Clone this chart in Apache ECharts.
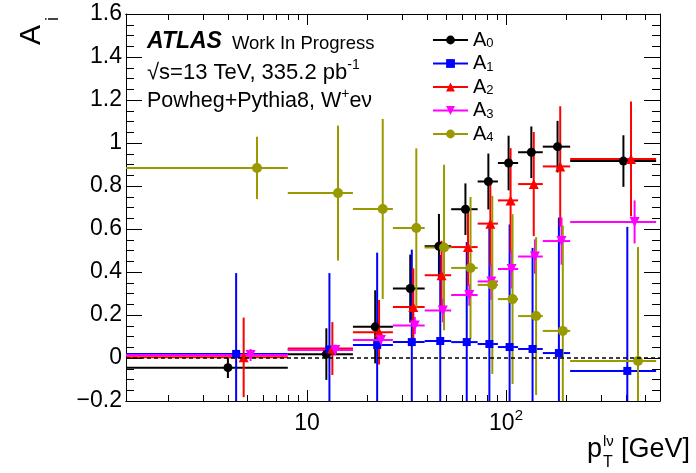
<!DOCTYPE html>
<html>
<head>
<meta charset="utf-8">
<script src="https://cdn.jsdelivr.net/npm/echarts@6/dist/echarts.min.js"></script>
<style>
  html, body { margin: 0; padding: 0; background: #fff; }
  #chart { width: 696px; height: 473px; }
</style>
</head>
<body>
<div id="chart"></div>
<script>
// bin edges of p_T^lnu in GeV (first bin starts at 0, clipped by the log axis)
const binEdges = [0, 8, 17, 27, 39, 53, 72, 91, 115, 153, 210, 568];

// angular coefficients and their (symmetric) uncertainties, one value per bin
const a0 = [-0.045, 0.018, 0.145, 0.323, 0.52, 0.692, 0.821, 0.907, 0.957, 0.983, 0.916];
const a0Err = [0.048, 0.12, 0.17, 0.158, 0.15, 0.12, 0.13, 0.127, 0.12, 0.12, 0.12];
const a1 = [0.019, 0.04, 0.06, 0.074, 0.079, 0.074, 0.065, 0.051, 0.042, 0.023, -0.06];
const a1Err = [0.376, 0.355, 0.43, 0.43, 0.40, 0.465, 0.555, 0.57, 0.47, 0.63, 0.67];
const a2 = [0.003, 0.044, 0.12, 0.237, 0.385, 0.516, 0.625, 0.733, 0.809, 0.891, 0.926];
const a2Err = [0.185, 0.123, 0.15, 0.18, 0.16, 0.18, 0.2, 0.243, 0.242, 0.28, 0.267];
const a3 = [0.014, 0.037, 0.084, 0.151, 0.221, 0.293, 0.356, 0.414, 0.472, 0.544, 0.633];
const a3Err = [0.028, 0.025, 0.03, 0.04, 0.055, 0.05, 0.085, 0.09, 0.08, 0.11, 0.1];
const a4 = [0.884, 0.767, 0.693, 0.605, 0.514, 0.419, 0.34, 0.274, 0.195, 0.126, -0.014];
const a4Err = [0.145, 0.314, 0.419, 0.37, 0.385, 0.33, 0.414, 0.395, 0.367, 0.49, 0.53];

const names = ['A0', 'A1', 'A2', 'A3', 'A4'];
const values = [a0, a1, a2, a3, a4];
const errors = [a0Err, a1Err, a2Err, a3Err, a4Err];

// axes
const xMajorTicks = [10, 100];
const xMinorTicks = [2, 3, 4, 5, 6, 7, 8, 9, 20, 30, 40, 50, 60, 70, 80, 90, 200, 300, 400, 500];
const X_MIN = 1.23, X_MAX = 594;
const Y_MIN = -0.2, Y_MAX = 1.6;

const colors = ['#000000', '#0000ff', '#ff0000', '#ff00ff', '#999900'];
const symbols = ['circle', 'rect', 'triangle', 'triangle', 'circle'];
const symbolRot = [0, 0, 0, 180, 0];
const symbolSizes = [9, 8, 10, 10, 10];
const FONT = '"Liberation Sans", Arial, Helvetica, sans-serif';

// small shift of each coefficient inside its bin so the points do not overlap
function buildRows(vals, errs, k) {
  return vals.map((v, i) => {
    const lo = binEdges[i], hi = binEdges[i + 1];
    const x = lo + (0.5 + 0.05 * k) * (hi - lo);
    return [x, v, errs[i], lo, hi];
  });
}

function renderErrors(params, api) {
  const x = api.value(0), y = api.value(1), e = api.value(2);
  const lo = Math.max(api.value(3), X_MIN), hi = Math.min(api.value(4), X_MAX);
  const top = Math.min(y + e, Y_MAX), bot = Math.max(y - e, Y_MIN);
  const a = api.coord([lo, y]), b = api.coord([hi, y]);
  const c = api.coord([x, top]), d = api.coord([x, bot]);
  const style = { stroke: api.visual('color'), lineWidth: 2 };
  return {
    type: 'group',
    children: [
      { type: 'line', shape: { x1: a[0], y1: a[1], x2: b[0], y2: b[1] }, style: style },
      { type: 'line', shape: { x1: c[0], y1: c[1], x2: d[0], y2: d[1] }, style: style }
    ]
  };
}

const series = [];
names.forEach((name, k) => {
  const rows = buildRows(values[k], errors[k], k);
  series.push({
    name: name + ' err',
    type: 'custom',
    renderItem: renderErrors,
    encode: { x: 0, y: 1 },
    itemStyle: { color: colors[k] },
    data: rows,
    silent: true
  });
  series.push({
    name: name,
    type: 'line',
    data: rows.map(r => [r[0], r[1]]),
    symbol: symbols[k],
    symbolRotate: symbolRot[k],
    symbolSize: symbolSizes[k],
    itemStyle: { color: colors[k], borderWidth: 0 },
    lineStyle: { width: 0, opacity: 0 },
    silent: true
  });
});

// dashed zero line
series.push({
  name: 'zero',
  type: 'line',
  data: [],
  markLine: {
    silent: true,
    symbol: ['none', 'none'],
    label: { show: false },
    lineStyle: { color: '#000', type: [4, 3], width: 1.5 },
    data: [{ yAxis: 0 }]
  }
});

function xAxisDef(position, ticks, len, withLabels) {
  return {
    type: 'log',
    logBase: 10,
    min: X_MIN,
    max: X_MAX,
    position: position,
    axisLine: { show: true, onZero: false, lineStyle: { color: '#000', width: 1 } },
    axisTick: { show: true, inside: true, length: len, customValues: ticks, lineStyle: { color: '#000', width: 1 } },
    axisLabel: withLabels ? {
      show: true,
      customValues: ticks,
      margin: 7,
      color: '#000',
      formatter: v => (Math.round(v) === 10 ? '{n|10}' : '{n|10}{s|2}'),
      rich: {
        n: { fontSize: 23, lineHeight: 27, verticalAlign: 'bottom', fontFamily: FONT, color: '#000' },
        s: { fontSize: 15, lineHeight: 15, verticalAlign: 'top', fontFamily: FONT, color: '#000' }
      }
    } : { show: false },
    splitLine: { show: false },
    minorTick: { show: false }
  };
}

function yAxisDef(position, withLabels) {
  return {
    type: 'value',
    min: Y_MIN,
    max: Y_MAX,
    interval: 0.2,
    position: position,
    axisLine: { show: true, onZero: false, lineStyle: { color: '#000', width: 1 } },
    axisTick: { show: true, inside: true, length: 16, lineStyle: { color: '#000', width: 1 } },
    minorTick: { show: true, splitNumber: 4, length: 8, lineStyle: { color: '#000', width: 1 } },
    axisLabel: withLabels ? {
      show: true,
      margin: 4,
      color: '#000',
      fontSize: 23,
      fontFamily: FONT,
      formatter: v => {
        const s = String(+Math.abs(v).toFixed(1));
        return v < -1e-9 ? '\u2212' + s : s;
      }
    } : { show: false },
    splitLine: { show: false }
  };
}

const chart = echarts.init(document.getElementById('chart'), null, { renderer: 'canvas' });
chart.setOption({
  animation: false,
  backgroundColor: '#fff',
  textStyle: { fontFamily: FONT, color: '#000' },
  grid: { left: 126, right: 36, top: 14, bottom: 72, containLabel: false },
  xAxis: [
    xAxisDef('bottom', xMajorTicks, 11, true),
    xAxisDef('bottom', xMinorTicks, 6, false),
    xAxisDef('top', xMajorTicks, 11, false),
    xAxisDef('top', xMinorTicks, 6, false)
  ],
  yAxis: [
    yAxisDef('left', true),
    yAxisDef('right', false)
  ],
  legend: {
    data: names,
    orient: 'vertical',
    left: 432,
    top: 30,
    padding: 0,
    itemWidth: 35,
    itemHeight: 11,
    itemGap: 3.5,
    selectedMode: false,
    lineStyle: { width: 2, opacity: 1, type: 'solid' },
    formatter: n => '{a|A}{s|' + n.slice(1) + '}',
    textStyle: {
      color: '#000',
      rich: {
        a: { fontSize: 20, lineHeight: 20, verticalAlign: 'top', fontFamily: FONT, color: '#000' },
        s: { fontSize: 13, lineHeight: 10, verticalAlign: 'bottom', fontFamily: FONT, color: '#000' }
      }
    }
  },
  graphic: [
    {
      type: 'text', x: 147, y: 40,
      style: {
        text: '{b|ATLAS}{n|Work In Progress}',
        verticalAlign: 'middle',
        rich: {
          b: { fontSize: 23, fontWeight: 'bold', fontStyle: 'italic', lineHeight: 27, verticalAlign: 'bottom', fontFamily: FONT, fill: '#000' },
          n: { fontSize: 18.5, lineHeight: 21, verticalAlign: 'bottom', padding: [0, 0, 0, 10], fontFamily: FONT, fill: '#000' }
        }
      }
    },
    {
      type: 'text', x: 147, y: 71,
      style: {
        text: '{n|\u221As=13 TeV, 335.2 pb}{s|-1}',
        verticalAlign: 'middle',
        rich: {
          n: { fontSize: 22, lineHeight: 26, verticalAlign: 'bottom', fontFamily: FONT, fill: '#000' },
          s: { fontSize: 14, lineHeight: 14, verticalAlign: 'top', fontFamily: FONT, fill: '#000' }
        }
      }
    },
    {
      type: 'text', x: 147, y: 100,
      style: {
        text: '{n|Powheg+Pythia8, W}{s|+}{n|e\u03BD}',
        verticalAlign: 'middle',
        rich: {
          n: { fontSize: 21.5, lineHeight: 25, verticalAlign: 'bottom', fontFamily: FONT, fill: '#000' },
          s: { fontSize: 14, lineHeight: 14, verticalAlign: 'top', fontFamily: FONT, fill: '#000' }
        }
      }
    },
    // y-axis title A_i, rotated
    {
      type: 'text', x: 31.5, y: 45, rotation: Math.PI / 2,
      style: { text: 'A', fontSize: 30, fontFamily: FONT, fill: '#000', align: 'left', verticalAlign: 'middle' }
    },
    {
      type: 'text', x: 53, y: 21, rotation: Math.PI / 2,
      style: { text: 'i', fontSize: 18, fontFamily: FONT, fill: '#000', align: 'left', verticalAlign: 'middle' }
    },
    // x-axis title p_T^lnu [GeV]
    { type: 'text', x: 587, y: 450, style: { text: 'p', fontSize: 27, fontFamily: FONT, fill: '#000', verticalAlign: 'middle' } },
    { type: 'text', x: 603, y: 442, style: { text: 'l\u03BD', fontSize: 15, fontFamily: FONT, fill: '#000', verticalAlign: 'middle' } },
    { type: 'text', x: 603, y: 463, style: { text: 'T', fontSize: 16, fontFamily: FONT, fill: '#000', verticalAlign: 'middle' } },
    { type: 'text', x: 621, y: 450, style: { text: '[GeV]', fontSize: 27, fontFamily: FONT, fill: '#000', verticalAlign: 'middle' } }
  ],
  series: series
});
</script>
</body>
</html>
